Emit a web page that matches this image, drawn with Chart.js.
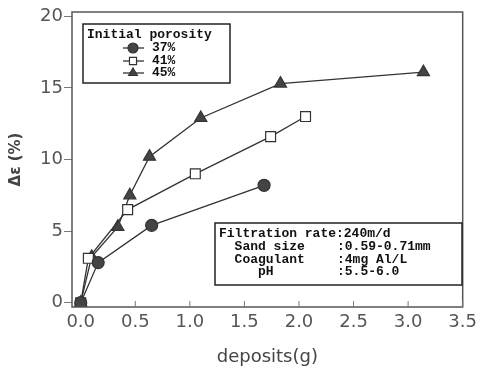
<!DOCTYPE html>
<html><head><meta charset="utf-8">
<script src="https://cdn.jsdelivr.net/npm/chart.js@4/dist/chart.umd.min.js"></script>
<style>html,body{margin:0;padding:0;background:#fff}#wrap{width:482px;height:368px}</style>
</head><body><div id="wrap"><canvas id="c" width="482" height="368"></canvas></div>
<script>
const seriesLabels = ['37%', '41%', '45%'];
const x37 = [0, 0.16, 0.65, 1.68];
const y37 = [0, 2.8, 5.4, 8.2];
const x41 = [0, 0.07, 0.43, 1.05, 1.74, 2.06];
const y41 = [0, 3.1, 6.5, 9.0, 11.6, 13.0];
const x45 = [0, 0.10, 0.34, 0.45, 0.63, 1.10, 1.83, 3.14];
const y45 = [0, 3.2, 5.3, 7.5, 10.2, 12.9, 15.3, 16.1];
const xTicks = [0, 0.5, 1.0, 1.5, 2.0, 2.5, 3.0, 3.5];
const yTicks = [0, 5, 10, 15, 20];
const legendTitle = 'Initial porosity';
const infoLines = [
  ['Filtration rate:240m/d', ''],
  ['  Sand size', ':0.59-0.71mm'],
  ['  Coagulant', ':4mg Al/L'],
  ['     pH', ':5.5-6.0']
];
const xTitle = 'deposits(g)';
const yTitle = 'Δε (%)';

const ink = '#333';
const pts = (xs, ys) => xs.map((x, i) => ({x: x, y: ys[i]}));
const styles = [
  {pointStyle: 'circle', bg: '#444', r: 6},
  {pointStyle: 'rect', bg: '#fff', r: 7},
  {pointStyle: 'triangle', bg: '#444', r: 7}
];
const dataArr = [pts(x37, y37), pts(x41, y41), pts(x45, y45)];
const datasets = dataArr.map((d, i) => ({
  label: seriesLabels[i], data: d, showLine: true,
  borderColor: ink, borderWidth: 1.3, pointStyle: styles[i].pointStyle,
  pointRadius: styles[i].r, pointBackgroundColor: styles[i].bg,
  pointBorderColor: ink, pointBorderWidth: 1.2, tension: 0
}));

const mono = 'bold 13px "Liberation Mono", "Courier New", monospace';
const overlay = {
  id: 'overlay',
  afterDraw(chart) {
    const ctx = chart.ctx, a = chart.chartArea;
    const xs = chart.scales.x;
    ctx.save();
    ctx.strokeStyle = '#555'; ctx.lineWidth = 1.5;
    ctx.strokeRect(a.left, a.top, a.right - a.left, a.bottom - a.top);
    ctx.lineWidth = 1; ctx.strokeStyle = '#777';
    xTicks.forEach(v => {
      if (v === 0) return;
      const px = xs.getPixelForValue(v);
      ctx.beginPath(); ctx.moveTo(px, a.bottom); ctx.lineTo(px, a.bottom - 6); ctx.stroke();
    });
    ctx.fillStyle = '#fff'; ctx.fillRect(83, 24, 147, 59);
    ctx.strokeStyle = '#222'; ctx.lineWidth = 1.5;
    ctx.strokeRect(83, 24, 147, 59);
    ctx.font = mono; ctx.fillStyle = '#111'; ctx.textBaseline = 'middle';
    ctx.fillText(legendTitle, 87, 35);
    const rows = [48, 61, 73];
    chart.data.datasets.forEach((ds, i) => {
      const y = rows[i];
      ctx.strokeStyle = ink; ctx.lineWidth = 1.3;
      ctx.beginPath(); ctx.moveTo(123, y); ctx.lineTo(144, y); ctx.stroke();
      ctx.fillStyle = ds.pointBackgroundColor; ctx.strokeStyle = ink; ctx.lineWidth = 1.2;
      Chart.helpers.drawPoint(ctx, {pointStyle: ds.pointStyle, radius: 5, borderWidth: 1.2, rotation: 0}, 133, y);
      ctx.fillStyle = '#111'; ctx.font = mono;
      ctx.fillText(ds.label, 152, y);
    });
    ctx.fillStyle = '#fff'; ctx.fillRect(215, 223, 247, 62);
    ctx.strokeStyle = '#222'; ctx.lineWidth = 1.5;
    ctx.strokeRect(215, 223, 247, 62);
    ctx.fillStyle = '#111'; ctx.font = mono;
    const iy = [234, 247, 260, 272];
    infoLines.forEach((l, i) => {
      ctx.fillText(l[0], 219, iy[i]);
      if (l[1]) ctx.fillText(l[1], 337, iy[i]);
    });
    ctx.restore();
  }
};

new Chart(document.getElementById('c'), {
  type: 'scatter',
  data: {datasets: datasets},
  options: {
    responsive: false, animation: false, devicePixelRatio: 1,
    layout: {padding: {left: 0, right: 14, top: 12, bottom: 0}},
    plugins: {legend: {display: false}, tooltip: {enabled: false}},
    scales: {
      x: {
        type: 'linear', min: -0.08, max: 3.5,
        afterBuildTicks: s => { s.ticks = xTicks.map(v => ({value: v})); },
        afterFit: s => { s.height = 61; },
        grid: {display: false, drawTicks: false},
        border: {display: false},
        ticks: {padding: 5, color: '#555', font: {family: 'DejaVu Sans', size: 18},
          callback: v => Number(v).toFixed(1), maxRotation: 0, autoSkip: false},
        title: {display: true, text: xTitle, color: '#444', font: {family: 'DejaVu Sans', size: 18}, padding: {top: 2, bottom: 0}}
      },
      y: {
        type: 'linear', min: -0.3, max: 20.3,
        afterBuildTicks: s => { s.ticks = yTicks.map(v => ({value: v})); },
        afterFit: s => { s.width = 72; },
        grid: {drawOnChartArea: false, drawTicks: true, tickLength: 8, color: '#777'},
        border: {display: false},
        ticks: {padding: 1, color: '#555', font: {family: 'DejaVu Sans', size: 18}, autoSkip: false},
        title: {display: true, text: yTitle, color: '#444', font: {family: 'DejaVu Sans', size: 15, weight: 'bold'}, padding: {top: 7, bottom: 0}}
      }
    }
  },
  plugins: [overlay]
});
</script></body></html>
